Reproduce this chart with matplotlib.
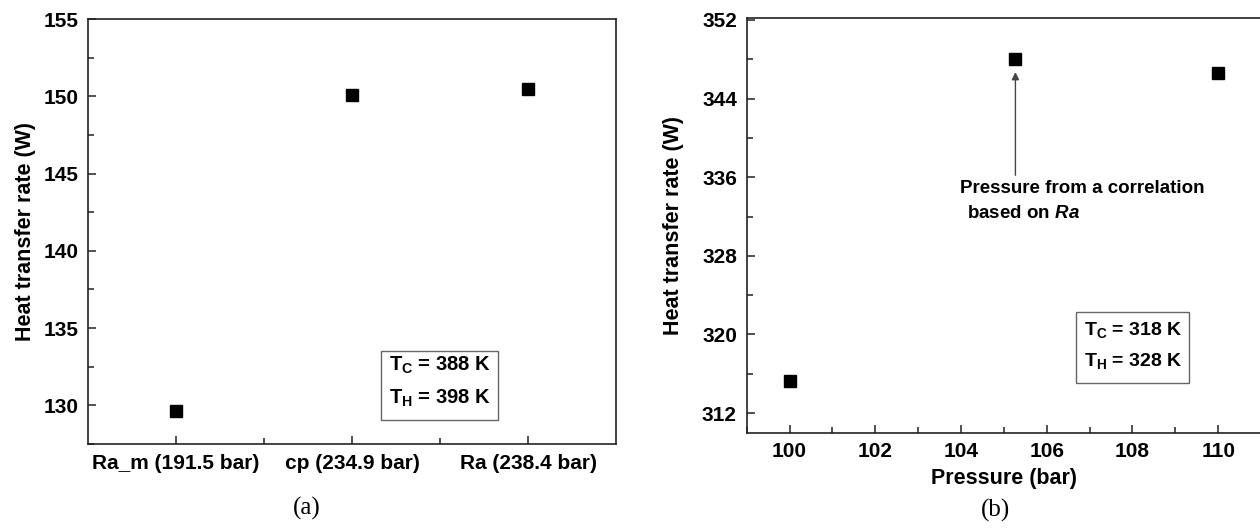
import matplotlib
matplotlib.use("Agg")
import matplotlib.pyplot as plt
from matplotlib.patches import Rectangle
from matplotlib.ticker import MultipleLocator, FixedLocator

# --- Data ---
cases_a = ["Ra_m (191.5 bar)", "cp (234.9 bar)", "Ra (238.4 bar)"]
heat_a = [129.63, 150.07, 150.46]

pressure_b = [100.0, 105.27, 110.0]
heat_b = [315.25, 348.0, 346.6]

# --- Fonts ---
sans = "Liberation Sans"
plt.rcParams["font.family"] = [sans, "DejaVu Sans"]
plt.rcParams["font.weight"] = "bold"
plt.rcParams["mathtext.fontset"] = "custom"
plt.rcParams["mathtext.rm"] = sans + ":bold"
plt.rcParams["mathtext.bf"] = sans + ":bold"
plt.rcParams["mathtext.it"] = sans + ":italic:bold"
plt.rcParams["mathtext.bfit"] = sans + ":italic:bold"

fig = plt.figure(figsize=(12.6, 5.32), dpi=100)

edge = "#222222"


def style_axes(ax):
    for s in ax.spines.values():
        s.set_linewidth(1.2)
        s.set_color(edge)
    ax.tick_params(which="both", direction="in", colors=edge, labelcolor="black",
                   labelsize=15, width=1.1, pad=7)
    ax.tick_params(which="major", length=6)
    ax.tick_params(which="minor", length=4)
    for lab in ax.get_xticklabels() + ax.get_yticklabels():
        lab.set_fontweight("bold")


# === (a) ===
ax1 = fig.add_axes([88 / 1260, 1 - 444 / 532, 528 / 1260, 425 / 532])
xa = [1, 2, 3]
ax1.plot(xa, heat_a, "s", color="black", markersize=9)
ax1.set_xlim(0.5, 3.5)
ax1.set_ylim(127.5, 155)
ax1.set_xticks(xa)
ax1.set_xticklabels(cases_a)
ax1.xaxis.set_minor_locator(FixedLocator([1.5, 2.5]))
ax1.yaxis.set_major_locator(MultipleLocator(5))
ax1.yaxis.set_minor_locator(MultipleLocator(2.5))
ax1.set_ylabel("Heat transfer rate (W)", fontsize=15.5, fontweight="bold", labelpad=5)
style_axes(ax1)

ax1.add_patch(Rectangle((0.554, 0.0565), 0.222, 0.1625, transform=ax1.transAxes,
                        fill=False, edgecolor="#666666", linewidth=1.0))
ax1.text(0.570, 0.172, r"T$_\mathbf{C}$ = 388 K", transform=ax1.transAxes,
         fontsize=14.5, fontweight="bold", va="baseline")
ax1.text(0.570, 0.094, r"T$_\mathbf{H}$ = 398 K", transform=ax1.transAxes,
         fontsize=14.5, fontweight="bold", va="baseline")

# === (b) ===
ax2 = fig.add_axes([746.7 / 1260, 1 - 432.7 / 532, 514.3 / 1260, 414.7 / 532])
ax2.plot(pressure_b, heat_b, "s", color="black", markersize=9)
ax2.set_xlim(99, 111)
ax2.set_ylim(310, 352.2)
ax2.xaxis.set_major_locator(MultipleLocator(2))
ax2.xaxis.set_minor_locator(MultipleLocator(1))
ax2.yaxis.set_major_locator(MultipleLocator(8))
ax2.yaxis.set_minor_locator(MultipleLocator(4))
ax2.set_xlabel("Pressure (bar)", fontsize=15.5, fontweight="bold", labelpad=5)
ax2.set_ylabel("Heat transfer rate (W)", fontsize=15.5, fontweight="bold", labelpad=13)
style_axes(ax2)

ax2.annotate("", xy=(pressure_b[1], 346.7), xytext=(pressure_b[1], 336.2),
             arrowprops=dict(arrowstyle="-|>", color="#444444", lw=1.0,
                             mutation_scale=11, shrinkA=0, shrinkB=0))
ax2.text(103.98, 334.9, "Pressure from a correlation", fontsize=13.5,
         fontweight="bold", va="center")
ax2.text(104.15, 332.3, r"based on $\mathbfit{Ra}$", fontsize=13.5,
         fontweight="bold", va="center")

ax2.add_patch(Rectangle((0.640, 0.1206), 0.220, 0.1712, transform=ax2.transAxes,
                        fill=False, edgecolor="#666666", linewidth=1.0))
ax2.text(0.655, 0.235, r"T$_\mathbf{C}$ = 318 K", transform=ax2.transAxes,
         fontsize=14, fontweight="bold", va="baseline")
ax2.text(0.655, 0.160, r"T$_\mathbf{H}$ = 328 K", transform=ax2.transAxes,
         fontsize=14, fontweight="bold", va="baseline")

# panel captions
fig.text(307 / 1260, 1 - 508 / 532, "(a)", family="Liberation Serif",
         fontweight="normal", fontsize=18, ha="center", va="center")
fig.text(996 / 1260, 1 - 510 / 532, "(b)", family="Liberation Serif",
         fontweight="normal", fontsize=18, ha="center", va="center")

fig.savefig("out.png", dpi=100)
